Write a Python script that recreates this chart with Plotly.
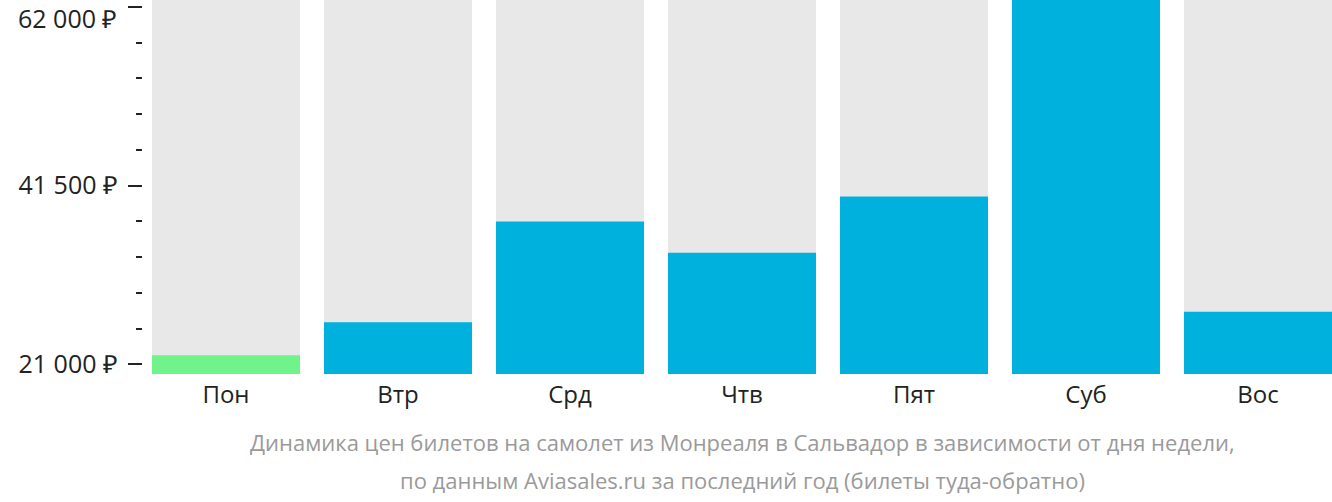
import plotly.graph_objects as go

days = ["Пон", "Втр", "Срд", "Чтв", "Пят", "Суб", "Вос"]
prices = [22050, 25850, 37400, 33800, 40250, 62800, 27050]
colors = ["#6ff38a", "#00b1dd", "#00b1dd", "#00b1dd", "#00b1dd", "#00b1dd", "#00b1dd"]
tick_values = [21000, 41500, 62000]
tick_labels = ["21 000 ₽", "41 500 ₽", "62 000 ₽"]
caption_lines = [
    "Динамика цен билетов на самолет из Монреаля в Сальвадор в зависимости от дня недели,",
    "по данным Aviasales.ru за последний год (билеты туда-обратно)",
]

y_min = 19900
y_max = max(prices)
bar_w = 148 / 172

fig = go.Figure()
fig.add_trace(go.Bar(
    x=days, y=[y_max] * len(days), marker=dict(color="#e8e8e8", line=dict(width=0)),
    width=bar_w, hoverinfo="skip", showlegend=False,
))
fig.add_trace(go.Bar(
    x=days, y=prices, marker=dict(color=colors, line=dict(width=0)),
    width=bar_w, showlegend=False,
))

# the topmost label is drawn as an annotation so that it stays inside the page
axis_text = tick_labels[:-1] + [""]

plot_w = 1332 - 142
fig.update_layout(
    width=1332, height=502,
    margin=dict(l=142, r=0, t=0, b=128, autoexpand=False),
    barmode="overlay",
    plot_bgcolor="white", paper_bgcolor="white",
    font=dict(family="Open Sans", color="#222222"),
    xaxis=dict(
        domain=[10 / plot_w, 1], automargin=False,
        range=[-0.5 + 12 / 172, len(days) - 0.5 - 12 / 172],
        showgrid=False, zeroline=False, showline=False, ticks="",
        tickfont=dict(size=24, color="#222222"),
        ticklabelstandoff=4,
    ),
    yaxis=dict(
        range=[y_min, y_max], anchor="free", position=0, automargin=False,
        tickmode="array", tickvals=tick_values, ticktext=axis_text,
        ticks="outside", ticklen=14, tickwidth=2, tickcolor="#222222",
        tickfont=dict(size=25, color="#222222"),
        ticklabelstandoff=5, ticklabeloverflow="allow",
        showgrid=False, zeroline=False, showline=False,
        minor=dict(tick0=21000, dtick=4100, ticks="outside", ticklen=6,
                   tickwidth=2, tickcolor="#222222", showgrid=False),
    ),
)

fig.add_annotation(
    text=tick_labels[-1], xref="paper", yref="paper", x=0, y=1,
    xanchor="right", yanchor="top", xshift=-24, yshift=0,
    showarrow=False, borderpad=0,
    font=dict(size=25, color="#222222", family="Open Sans"),
)

for i, line in enumerate(caption_lines):
    fig.add_annotation(
        text=line, xref="paper", yref="paper", x=0.5 + 5 / plot_w, y=0,
        yshift=-(68 + 38 * i), yanchor="middle", showarrow=False,
        font=dict(size=22, color="#9a9a9a", family="Open Sans"),
    )

fig.write_html("out.html")
